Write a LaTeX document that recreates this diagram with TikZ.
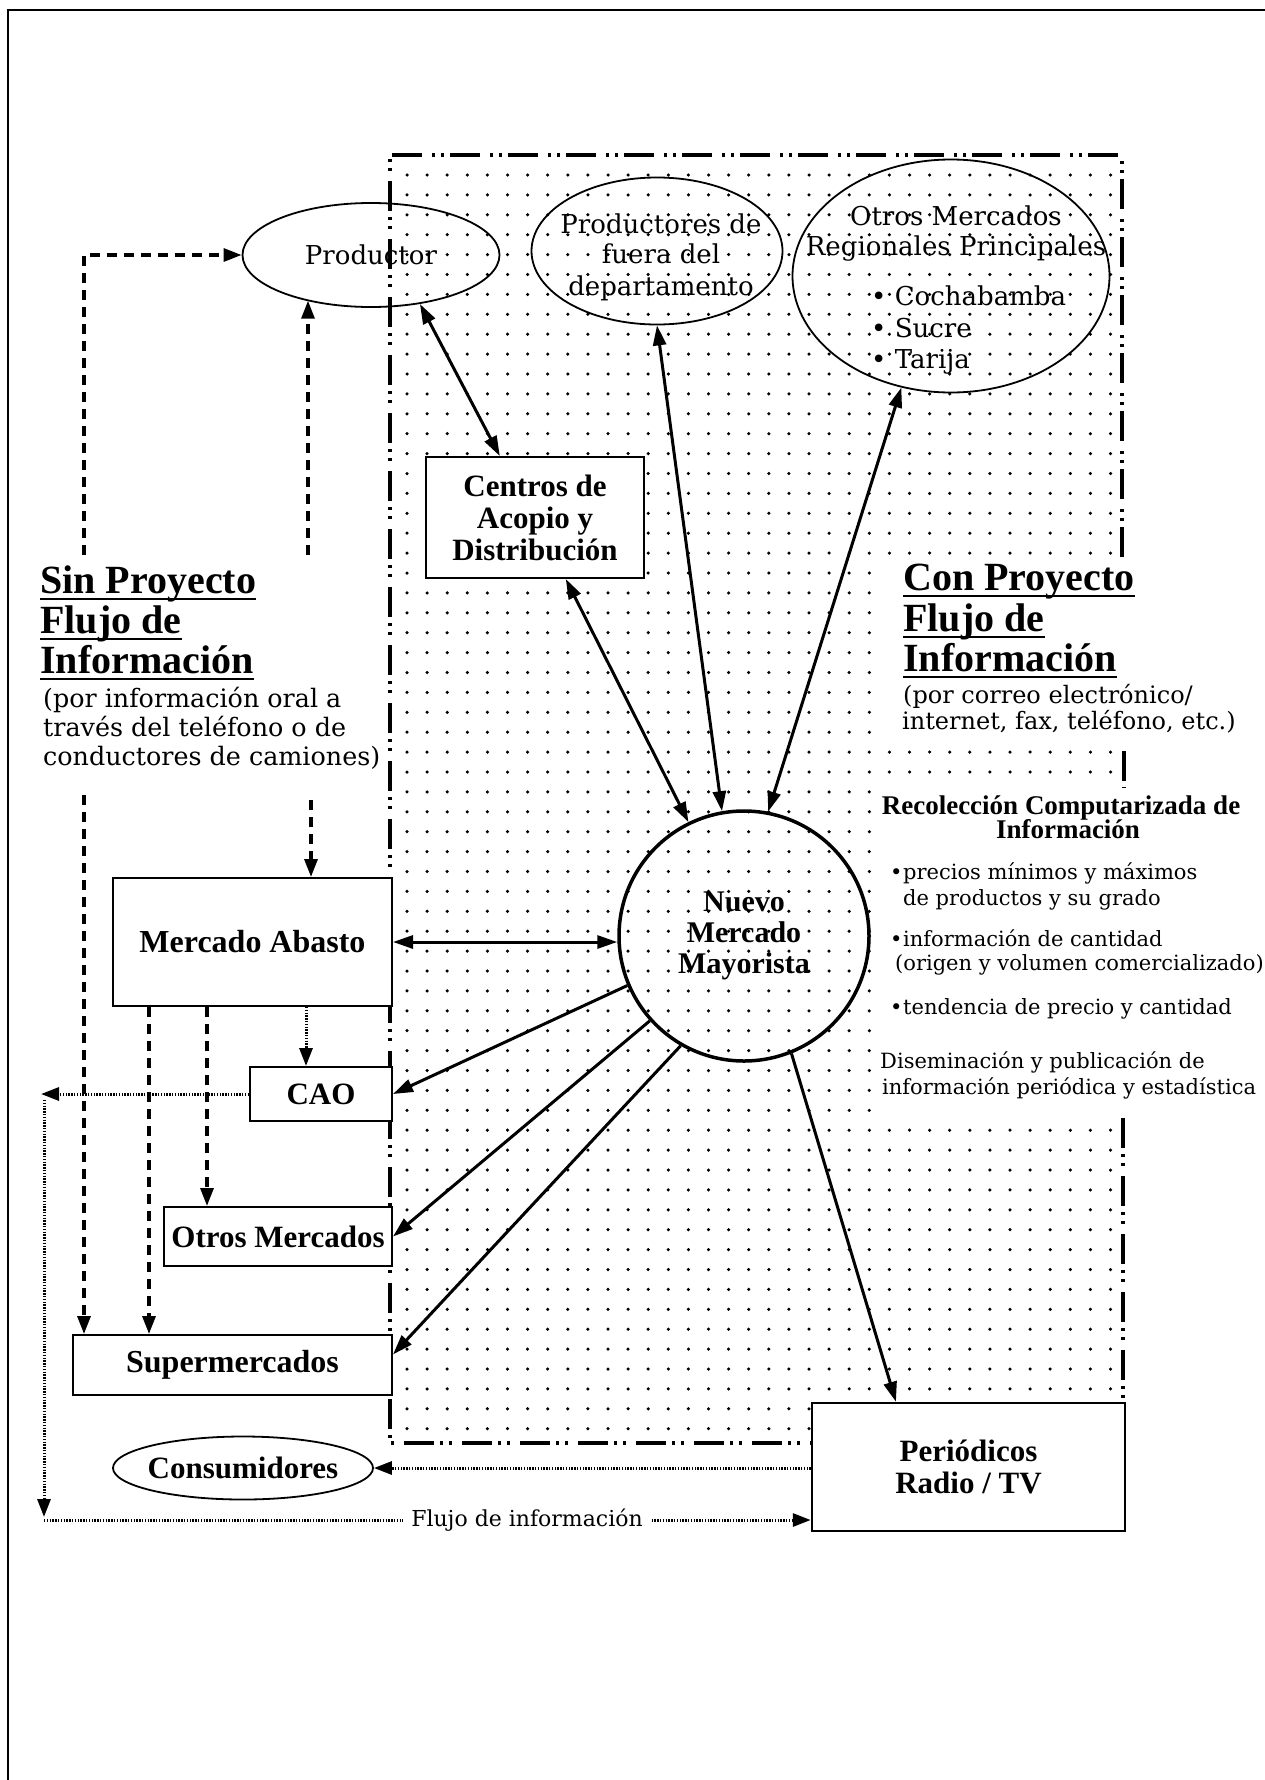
\documentclass[tikz,border=0pt]{standalone}
\usepackage{fontspec}
\setmainfont{DejaVu Serif}
\newfontfamily\tnr{Liberation Serif}
\usetikzlibrary{shapes.geometric,arrows.meta,calc}
\begin{document}
\begin{tikzpicture}[x=1pt,y=-1pt,
  nbox/.style={draw,line width=2pt,fill=white,inner sep=0pt,align=center,font=\tnr\bfseries\fontsize{31}{32}\selectfont},
  ellsh/.style={draw,ellipse,line width=1.8pt,inner sep=0pt},
  regtxt/.style={inner sep=0pt,font=\fontsize{26}{31}\selectfont},
  boldtxt/.style={inner sep=0pt,font=\tnr\bfseries\fontsize{31}{32}\selectfont},
  headtxt/.style={inner sep=0pt,anchor=base west,font=\tnr\bfseries\fontsize{40}{42}\selectfont},
  subtxt/.style={inner sep=0pt,anchor=base west,font=\fontsize{25.4}{29}\selectfont},
  bultxt/.style={inner sep=0pt,anchor=base west,font=\fontsize{21}{26}\selectfont},
  sarr/.style={line width=3pt,-{Triangle[length=20pt,width=13pt]}},
  dbl/.style={line width=3pt,{Triangle[length=20pt,width=13pt]}-{Triangle[length=20pt,width=13pt]}},
  dashflow/.style={line width=3.2pt,dash pattern=on 10pt off 7pt,-{Triangle[length=18pt,width=13pt]}},
  dotflow/.style={line width=3pt,dash pattern=on 1.4pt off 1.4pt,-{Triangle[length=18pt,width=13pt]}},
  dashdotbdr/.style={line width=3.8pt,dash pattern=on 30pt off 6pt on 3pt off 6pt on 3pt off 10pt},
]
\useasboundingbox (0,0) rectangle (1265,1780);
\fill[white] (0,0) rectangle (1265,1780);
% page frame
\draw[line width=2pt] (8,1780) -- (8,10) -- (1265,10);

% dot screen
\foreach \i in {0,...,35}{
  \foreach \j in {0,...,63}{
    \fill ({407+20.1*\i},{175+19.9*\j}) circle (1.75pt);
  }
}
% white areas for text blocks
\fill[white] (880,560) rectangle (1265,745);
\fill[white] (878,788) rectangle (1265,1118);

% dash-dot border of the project area
\draw[dashdotbdr] (1122,557) -- (1122,155) -- (390,155) -- (390,1443) -- (812,1443);
\draw[dashdotbdr] (1123,1118) -- (1123,1403);
\draw[dashdotbdr] (1124,751) -- (1124,788);

% nodes
\node[ellsh,minimum width=257pt,minimum height=104pt,regtxt] (prod) at (371,255) {Productor};

\node[ellsh,minimum width=251pt,minimum height=147pt] (prodf) at (657,251) {};
\node[regtxt,anchor=base] (prodf1) at (661,233) {Productores de};
\node[regtxt,anchor=base] (prodf2) at (661,263) {fuera del};
\node[regtxt,anchor=base] (prodf3) at (661,295) {departamento};

\node[ellsh,minimum width=317pt,minimum height=233pt] (otros) at (951,276) {};
\node[regtxt,anchor=base] (otros1) at (956,225) {Otros Mercados};
\node[regtxt,anchor=base] (otros2) at (956,255) {Regionales Principales};
\node[regtxt,anchor=base west] (otros3) at (871,305) {• Cochabamba};
\node[regtxt,anchor=base west] (otros4) at (871,337) {• Sucre};
\node[regtxt,anchor=base west] (otros5) at (871,368) {• Tarija};

\node[nbox,minimum width=218pt,minimum height=121pt] (centros) at (535,517.5) {Centros de\\Acopio y\\Distribución};

\node[circle,draw,line width=3.5pt,minimum size=250pt,inner sep=0pt,align=center,font=\tnr\bfseries\fontsize{30}{31}\selectfont] (nuevo) at (744,936) {Nuevo\\Mercado\\Mayorista};

\node[nbox,minimum width=279pt,minimum height=128pt,font=\tnr\bfseries\fontsize{32}{32}\selectfont] (abasto) at (252.5,942) {Mercado Abasto};
\node[nbox,minimum width=142pt,minimum height=54pt] (cao) at (321,1094) {CAO};
\node[nbox,minimum width=228pt,minimum height=59pt] (otrosm) at (278,1236.5) {Otros Mercados};
\node[nbox,minimum width=319pt,minimum height=60pt,font=\tnr\bfseries\fontsize{32}{32}\selectfont] (super) at (232.5,1365) {Supermercados};
\node[ellsh,minimum width=260pt,minimum height=63pt] (cons) at (243,1468) {};
\node[boldtxt] (constxt) at (243,1468) {Consumidores};
\node[nbox,line width=2.5pt,minimum width=313pt,minimum height=128pt] (per) at (968.5,1467) {Periódicos\\Radio / TV};

% headings: Sin Proyecto
\node[headtxt] (sin1) at (40,593) {Sin Proyecto};
\node[headtxt] (sin2) at (40,633) {Flujo de};
\node[headtxt] (sin3) at (40,673) {Información};
\node[subtxt] (sin4) at (43,707) {(por información oral a};
\node[subtxt] (sin5) at (43,736) {través del teléfono o de};
\node[subtxt] (sin6) at (43,765) {conductores de camiones)};

% headings: Con Proyecto
\node[headtxt] (con1) at (903,590) {Con Proyecto};
\node[headtxt] (con2) at (903,631) {Flujo de};
\node[headtxt] (con3) at (903,671) {Información};
\node[subtxt,font=\fontsize{24}{26}\selectfont] (con4) at (903,703) {(por correo electrónico/};
\node[subtxt,font=\fontsize{24}{26}\selectfont] (con5) at (902,729) {internet, fax, teléfono, etc.)};

\foreach \n in {sin1,sin2,sin3,con1,con2,con3}{
  \draw[line width=2pt] ([yshift=-6pt]\n.base west) -- ([yshift=-6pt]\n.base east);
}

% computerised information block
\node[inner sep=0pt,anchor=base,font=\tnr\bfseries\fontsize{27}{28}\selectfont] (rec1) at (1061,814) {Recolección Computarizada de};
\node[inner sep=0pt,anchor=base,font=\tnr\bfseries\fontsize{27}{28}\selectfont] (rec2) at (1068,838) {Información};
\node[bultxt] (b1) at (890,879) {\makebox[13pt][l]{•}precios mínimos y máximos};
\node[bultxt] (b1b) at (903,905) {de productos y su grado};
\node[bultxt] (b2) at (890,946) {\makebox[13pt][l]{•}información de cantidad};
\node[bultxt] (b2b) at (895,970) {(origen y volumen comercializado)};
\node[bultxt] (b3) at (890,1014) {\makebox[13pt][l]{•}tendencia de precio y cantidad};
\node[bultxt] (d1) at (880,1068) {Diseminación y publicación de};
\node[bultxt] (d2) at (882,1094) {información periódica y estadística};

% solid connectors (with project)
\draw[dbl] (prod.-45) -- ($(centros.north west)!0.34!(centros.north east)$);
\draw[dbl] ($(centros.south west)!0.64!(centros.south east)$) -- (nuevo.116);
\draw[dbl] (prodf.south) -- (nuevo.100);
\draw[dbl] (otros.246) -- (nuevo.79);
\draw[dbl] (abasto.east) -- (abasto.east -| nuevo.west);
\draw[sarr] (nuevo.203) -- (cao.east);
\draw[sarr] (nuevo.222) -- (otrosm.east);
\draw[sarr] (nuevo.240) -- ($(super.north east)!0.33!(super.south east)$);
\draw[sarr] (nuevo.292) -- ($(per.north west)!0.27!(per.north east)$);

% dashed connectors (without project)
\coordinate (la) at (84,555);
\coordinate (lb) at (308,555);
\coordinate (lc) at (84,795);
\coordinate (ld) at (311,800);
\draw[dashflow] (la) |- (prod.west);
\draw[dashflow] (lb) -- (lb |- prod.215);
\draw[dashflow] (lc) -- (lc |- super.north);
\draw[dashflow] (ld) -- (ld |- abasto.north);
\coordinate (a1) at ([xshift=37pt]abasto.south west);
\coordinate (a2) at ([xshift=95pt]abasto.south west);
\coordinate (a3) at ([xshift=194pt]abasto.south west);
\draw[dashflow] (a1) -- (a1 |- super.north);
\draw[dashflow] (a2) -- (a2 |- otrosm.north);
\draw[dotflow] (a3) -- (a3 |- cao.north);

% dotted information flow
\coordinate (cl) at (41,1094);
\coordinate (cv1) at (44,1100);
\coordinate (cv2) at (44,1517);
\coordinate (fl) at (44,1520);
\draw[dotflow] (cao.west) -- (cl);
\draw[dotflow] (cv1) -- (cv2);
\draw[dotflow] (fl) -- (fl -| per.west);
\draw[dotflow] (per.west |- cons.east) -- (cons.east);
\node[fill=white,inner xsep=8pt,inner ysep=2pt,font=\fontsize{22}{24}\selectfont] (flujo) at (527,1520) {Flujo de información};
\end{tikzpicture}
\end{document}
